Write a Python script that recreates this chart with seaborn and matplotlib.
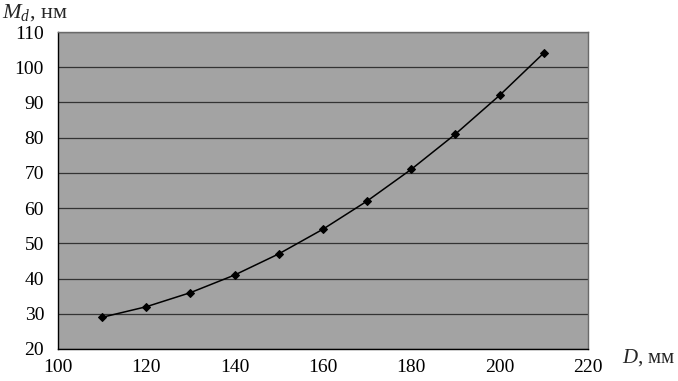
import matplotlib
matplotlib.use("Agg")
import matplotlib.pyplot as plt
import seaborn as sns
import pandas as pd

# diameter D (mm) vs M_d (nm)
diameter = [110, 120, 130, 140, 150, 160, 170, 180, 190, 200, 210]
md_values = [29, 32, 36, 41, 47, 54, 62, 71, 81, 92, 104]
x_ticks = [100, 120, 140, 160, 180, 200, 220]
y_ticks = [20, 30, 40, 50, 60, 70, 80, 90, 100, 110]

df = pd.DataFrame({"D": diameter, "Md": md_values})

sns.set_style("white")
plt.rcParams["font.family"] = ["Liberation Serif", "DejaVu Serif"]
plt.rcParams["mathtext.fontset"] = "custom"
plt.rcParams["mathtext.rm"] = "Liberation Serif"
plt.rcParams["mathtext.it"] = "Liberation Serif:italic"

fig = plt.figure(figsize=(6.78, 3.81), dpi=100)
ax = fig.add_axes([0.0855, 0.084, 0.7815, 0.832])
ax.set_facecolor("#a3a3a3")

sns.lineplot(data=df, x="D", y="Md", ax=ax, color="black", linewidth=1.1,
             marker="D", markersize=4.5, markeredgecolor="black")

ax.set_xlim(100, 220)
ax.set_ylim(20, 110)
ax.set_xticks(x_ticks)
ax.set_yticks(y_ticks)
ax.tick_params(axis="both", labelsize=14, colors="black", width=0.8)
ax.tick_params(axis="x", direction="in", length=3, pad=7)
ax.tick_params(axis="y", direction="out", length=5, pad=5)
ax.yaxis.grid(True, color="#333333", linewidth=0.9)
ax.xaxis.grid(False)

for side in ["left", "bottom"]:
    ax.spines[side].set_color("black")
    ax.spines[side].set_linewidth(1.0)
for side in ["top", "right"]:
    ax.spines[side].set_visible(True)
    ax.spines[side].set_color("#6a6a6a")
    ax.spines[side].set_linewidth(1.0)

ax.set_xlabel("")
ax.set_ylabel("")
fig.text(0.003, 0.995, r"$M_d$, нм", fontsize=16, va="top", ha="left")
fig.text(0.997, 0.062, r"$D$, мм", fontsize=15, va="center", ha="right")

fig.savefig("out.png", dpi=100)
